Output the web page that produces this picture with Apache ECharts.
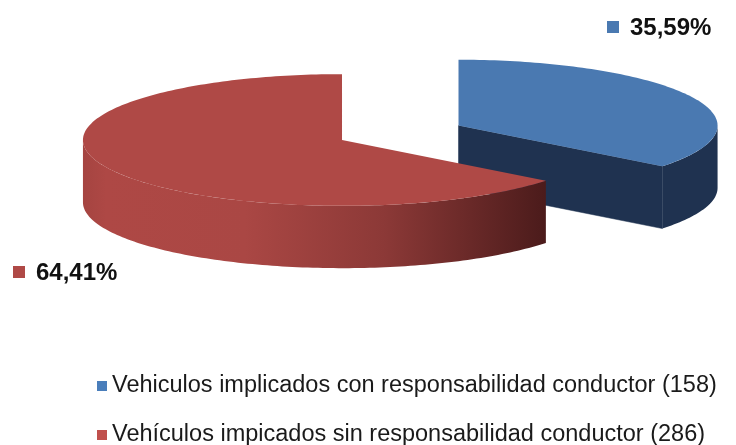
<!DOCTYPE html>
<html>
<head>
<meta charset="utf-8">
<script src="https://cdn.jsdelivr.net/npm/echarts@6/dist/echarts.min.js"></script>
<style>
html,body{margin:0;padding:0;background:#fff;}
#main{width:736px;height:445px;}
</style>
</head>
<body>
<div id="main"></div>
<script>
// ---- data ----
const categories = [
  'Vehiculos implicados con responsabilidad conductor (158)',
  'Vehículos impicados sin responsabilidad conductor (286)'
];
const values = [158, 286];

// ---- styling / layout ----
const topColors = ['#4a79b1', '#af4946'];
const cutColors = ['#1f3250', '#6e2a28'];
const sideColors = [
  '#1f3250',
  new echarts.graphic.LinearGradient(0, 0, 1, 0, [
    {offset: 0, color: '#a54441'},
    {offset: 0.05, color: '#ae4845'},
    {offset: 0.35, color: '#aa4744'},
    {offset: 0.65, color: '#8c3937'},
    {offset: 1, color: '#4b1b1b'}
  ])
];
const explode = [0.5, 0];
const labelAnchors = [[607, 27], [13, 272]];
const FONT = '"Liberation Sans", Arial, sans-serif';

const total = values.reduce((a, b) => a + b, 0);
const starts = [];
values.reduce((acc, v, i) => { starts[i] = acc; return acc + v; }, 0);

function fmtPct(v) {
  return (v / total * 100).toFixed(2).replace('.', ',') + '%';
}

function makeRender(idx) {
  return function (params, api) {
    const W = api.getWidth(), H = api.getHeight();
    const v = api.value(0), s = api.value(1), tot = api.value(2);
    const cx = W * 0.4647, cy = H * 0.3146;
    const rx = W * 0.352, ry = H * 0.148, h = H * 0.14;
    const t0 = s / tot * Math.PI * 2, t1 = (s + v) / tot * Math.PI * 2;
    const mid = (t0 + t1) / 2;
    const ex = explode[idx];
    const ox = ex * rx * Math.sin(mid), oy = -ex * ry * Math.cos(mid);
    const P = (t, dy) => [cx + ox + rx * Math.sin(t), cy + oy - ry * Math.cos(t) + (dy || 0)];
    const C = (dy) => [cx + ox, cy + oy + (dy || 0)];
    const arc = (a, b, dy) => {
      const pts = [];
      const n = Math.max(2, Math.ceil(Math.abs(b - a) / 0.02));
      for (let i = 0; i <= n; i++) pts.push(P(a + (b - a) * i / n, dy));
      return pts;
    };
    const children = [];
    // cut faces
    if (Math.sin(t1) > 1e-6) {
      children.push({type: 'polygon', shape: {points: [C(0), P(t1, 0), P(t1, h), C(h)]},
        style: {fill: cutColors[idx], stroke: cutColors[idx], lineWidth: 0.5}});
    }
    if (Math.sin(t0) < -1e-6) {
      children.push({type: 'polygon', shape: {points: [C(0), P(t0, 0), P(t0, h), C(h)]},
        style: {fill: cutColors[idx], stroke: cutColors[idx], lineWidth: 0.5}});
    }
    // outer side wall (front half only)
    const a = Math.max(t0, Math.PI / 2), b = Math.min(t1, Math.PI * 1.5);
    if (b > a) {
      const pts = arc(a, b, 0).concat(arc(b, a, h));
      children.push({type: 'polygon', shape: {points: pts}, style: {fill: sideColors[idx]}});
    }
    // top face
    children.push({type: 'polygon', shape: {points: [C(0)].concat(arc(t0, t1, 0))},
      style: {fill: topColors[idx]}});
    // label
    const la = labelAnchors[idx];
    children.push({type: 'rect', shape: {x: la[0], y: la[1] - 6, width: 12, height: 12},
      style: {fill: topColors[idx]}});
    children.push({type: 'text', x: la[0] + 23, y: la[1] + 1,
      style: {text: fmtPct(v), fill: '#111', font: 'bold 24px ' + FONT, align: 'left', verticalAlign: 'middle'}});
    return {type: 'group', children: children};
  };
}

const series = categories.map((name, i) => ({
  type: 'custom',
  name: name,
  coordinateSystem: 'none',
  silent: true,
  z: i + 1,
  itemStyle: {color: i === 0 ? '#4a7ebb' : '#c0504d'},
  data: [[values[i], starts[i], total]],
  renderItem: makeRender(i)
}));

const chart = echarts.init(document.getElementById('main'), null, {renderer: 'canvas'});
chart.setOption({
  animation: false,
  backgroundColor: '#ffffff',
  legend: {
    data: categories,
    orient: 'vertical',
    left: 97,
    top: 374,
    width: 640,
    height: 120,
    padding: 0,
    itemWidth: 10,
    itemHeight: 10,
    itemGap: 25,
    icon: 'rect',
    textStyle: {fontFamily: FONT, fontSize: 23.5, color: '#1a1a1a'}
  },
  series: series
});
</script>
</body>
</html>
